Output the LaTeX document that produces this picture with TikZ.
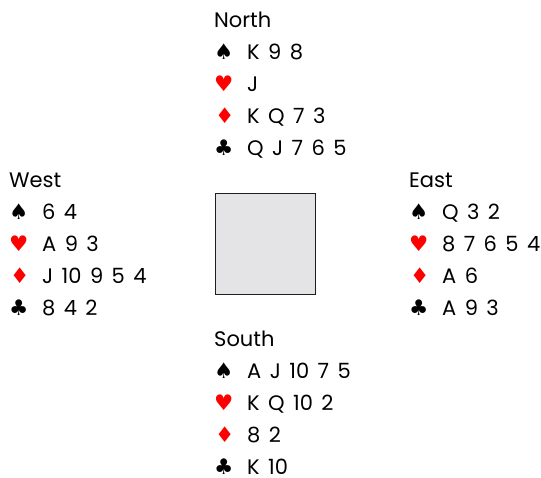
\documentclass[tikz,border=0pt]{standalone}
\usepackage{fontspec}
\setmainfont{Poppins}[WordSpace={1.5,0,0}]
\newfontfamily\suitfont{DejaVu Sans}
\definecolor{suitred}{RGB}{255,0,0}
\definecolor{tablegray}{RGB}{228,228,230}
\definecolor{tableedge}{RGB}{30,30,30}
\begin{document}
\begin{tikzpicture}[x=1pt,y=-1pt,
  txt/.style={anchor=base west,inner sep=0pt,text depth=0pt,font=\fontsize{21}{24}\selectfont},
  suit/.style={anchor=base west,inner sep=0pt,text depth=0pt,font=\suitfont\fontsize{21.5}{24}\selectfont},
  red/.style={text=suitred}]
\useasboundingbox (0,0) rectangle (541,478);
% table
\node[draw=tableedge,line width=1.5pt,fill=tablegray,minimum width=100pt,minimum height=101pt,inner sep=0pt,anchor=north west] (table) at (214.5,193) {};
% hands: name, then spades, hearts, diamonds, clubs
\foreach \id/\x/\y/\name/\s/\h/\d/\c in {
  n/214/28/North/K 9 8/J/K Q 7 3/Q J 7 6 5,
  w/9/188/West/6 4/A 9 3/J 10 9 5 4/8 4 2,
  e/409/188/East/Q 3 2/8 7 6 5 4/A 6/A 9 3,
  s/214/346.5/South/A J 10 7 5/K Q 10 2/8 2/K 10}{
  \node[txt] (\id name) at (\x,\y) {\name};
  \node[suit] (\id S) at (\x,\y+32) {♠};
  \node[suit,red] (\id H) at (\x,\y+64) {♥};
  \node[suit,red] (\id D) at (\x+1,\y+96) {♦};
  \node[suit] (\id C) at (\x,\y+128) {♣};
  \node[txt] (\id s) at (\x+33,\y+32) {\s};
  \node[txt] (\id h) at (\x+33,\y+64) {\h};
  \node[txt] (\id d) at (\x+33,\y+96) {\d};
  \node[txt] (\id c) at (\x+33,\y+128) {\c};
}
\end{tikzpicture}
\end{document}
